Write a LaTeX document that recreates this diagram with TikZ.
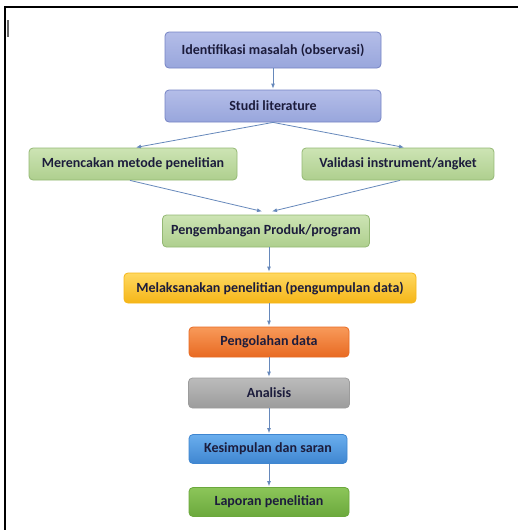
\documentclass[tikz,border=0pt]{standalone}
\usepackage{fontspec}
\setmainfont{Carlito}
\usetikzlibrary{arrows.meta}
\definecolor{arrowc}{HTML}{6688BB}
\definecolor{textc}{HTML}{1C1C3C}
\definecolor{blueT}{HTML}{B4BDE8}
\definecolor{blueB}{HTML}{98A6DC}
\definecolor{blueD}{HTML}{7583C4}
\definecolor{greenT}{HTML}{CDE4B4}
\definecolor{greenB}{HTML}{AECF8E}
\definecolor{greenD}{HTML}{94B874}
\definecolor{yellT}{HTML}{FFD860}
\definecolor{yellB}{HTML}{F5B618}
\definecolor{orT}{HTML}{F89A5A}
\definecolor{orB}{HTML}{E86A22}
\definecolor{grT}{HTML}{BBBBBB}
\definecolor{grB}{HTML}{9C9C9C}
\definecolor{skyT}{HTML}{6AAEEE}
\definecolor{skyB}{HTML}{3F86D0}
\definecolor{leafT}{HTML}{8CC65A}
\definecolor{leafB}{HTML}{6BA83C}
\begin{document}
\begin{tikzpicture}[x=1pt,y=-1pt,
	box/.style={ rounded corners=4pt, draw, line width=0.8pt, align=center, inner sep=0pt, text=textc, font=\fontsize{14}{16}\selectfont\bfseries },
	boxb/.style={ box, draw=blueD, top color=blueT, bottom color=blueB, minimum height=33pt },
	boxg/.style={ box, draw=greenD, top color=greenT, bottom color=greenB, minimum height=32pt },
	flow/.style={ arrowc, line width=0.8pt, -{Latex[length=5pt,width=4pt]}, shorten >=1pt }
]

\useasboundingbox (0,0) rectangle (518,530);
\draw[line width=2pt] (5,530) -- (5,7) -- (518,7);
\draw[black!60!white, line width=2pt] (8,20) -- (8,37);

\node at (273,50) (idf) [boxb,minimum width=216pt,minimum height=36pt] {Identifikasi masalah (observasi)};
\node at (273,106) (studi) [boxb,minimum width=216pt,minimum height=32pt] {Studi literature};
\node at (133,164) (rencana) [boxg,minimum width=208pt] {Merencakan metode penelitian};
\node at (398,164) (validasi) [boxg,minimum width=192pt] {Validasi instrument/angket};
\node at (266,231) (kembang) [boxg,minimum width=207pt] {Pengembangan Produk/program};
\node at (270,288) (laksana) [box,draw=yellB,top color=yellT,bottom color=yellB,minimum width=292pt,minimum height=30pt] {Melaksanakan penelitian (pengumpulan data)};
\node at (269,342) (olah) [box,draw=orB,top color=orT,bottom color=orB,minimum width=160pt,minimum height=30pt] {Pengolahan data};
\node at (269,393) (analisis) [box,draw=grB,top color=grT,bottom color=grB,minimum width=161pt,minimum height=30pt] {Analisis};
\node at (268,449) (simpul) [box,draw=skyB,top color=skyT,bottom color=skyB,minimum width=158pt,minimum height=29pt] {Kesimpulan dan saran};
\node at (269,502) (laporan) [box,draw=leafB,top color=leafT,bottom color=leafB,minimum width=160pt,minimum height=29pt] {Laporan penelitian};

\draw[flow] (idf) -- (studi);
\draw[flow] (studi.south) -- ([xshift=2pt]rencana.north);
\draw[flow] (studi.south) -- ([xshift=7pt]validasi.north);
\draw[flow] ([xshift=-3pt]rencana.south) -- ([xshift=-3pt,yshift=3pt]kembang.north);
\draw[flow] ([xshift=2pt]validasi.south) -- ([xshift=5pt,yshift=3pt]kembang.north);
\foreach \a/\b in {kembang/laksana,laksana/olah,olah/analisis,analisis/simpul,simpul/laporan}
	\draw[flow] (\a.south -| olah) -- (\b.north -| olah);

\end{tikzpicture}
\end{document}
